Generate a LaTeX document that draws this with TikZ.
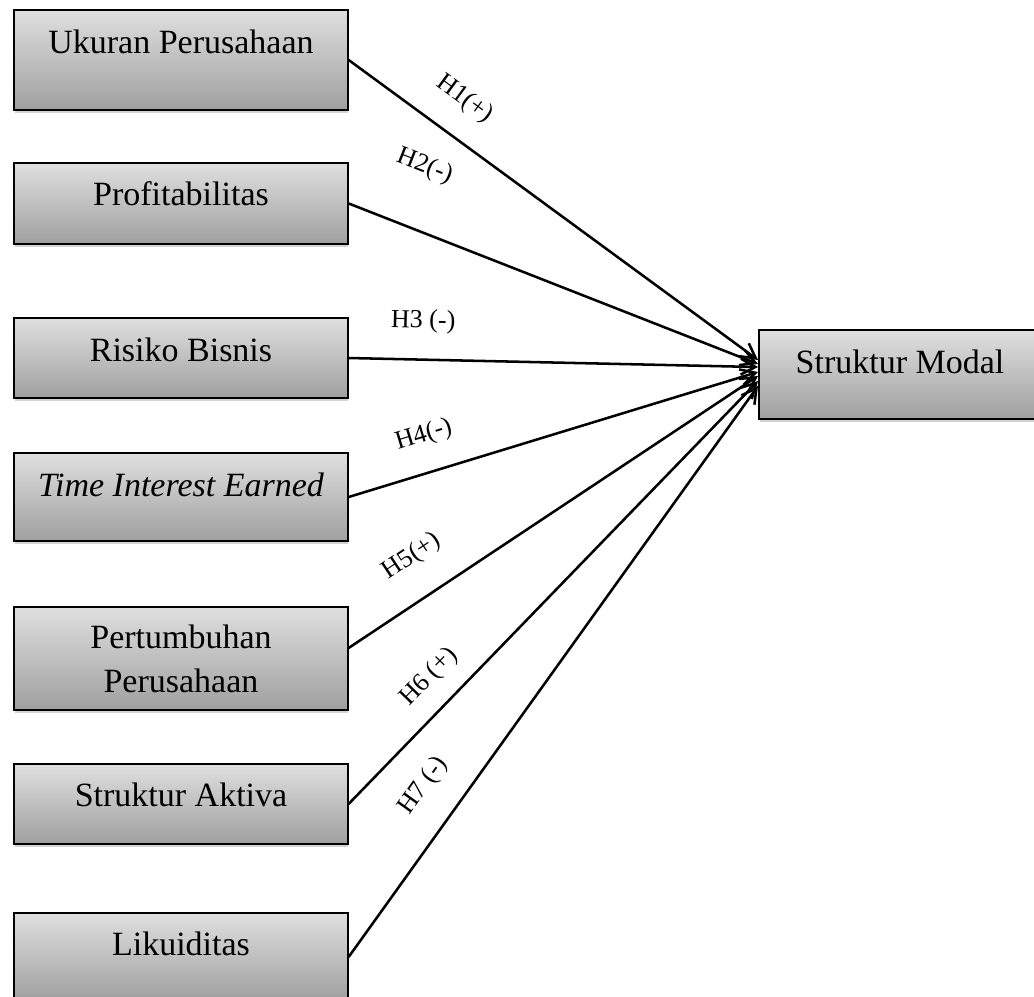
\documentclass[tikz,border=0pt]{standalone}
\usepackage{fontspec}
\setmainfont{Liberation Serif}
\usepackage{tikz}
\usetikzlibrary{arrows.meta, shadows}
\tikzstyle{varbox} = [rectangle, minimum width=250pt, text height=32.25pt, inner ysep=0pt, text centered, draw=black, line width=1.5pt, top color=gray!25, bottom color=gray!75, drop shadow={shadow xshift=0.6pt, shadow yshift=-2.6pt, opacity=0.35}, font=\fontsize{25.5}{33}\selectfont]
\tikzstyle{hyp} = [sloped, inner sep=0pt, font=\fontsize{19.5}{23}\selectfont]
\tikzstyle{arrow} = [line width=1.9pt, -{Straight Barb[length=11pt, width=12pt]}]

\begin{document}
\begin{tikzpicture}[x=0.75pt, y=-0.75pt]
        \useasboundingbox (0,0) rectangle (1034,996);
        % Nodes
        \node (ukuran) [varbox, text depth=42.75pt] at (181,60) {Ukuran Perusahaan};
        \node (profit) [varbox, text depth=28.5pt, node distance=107.6pt, below of=ukuran] {Profitabilitas};
        \node (risiko) [varbox, text depth=27.75pt, node distance=115.9pt, below of=profit] {Risiko Bisnis};
        \node (tie) [varbox, text depth=33.75pt, node distance=104.25pt, below of=risiko] {\itshape Time Interest Earned};
        \node (tumbuh) [varbox, text height={}, text depth={}, minimum height=77.25pt, align=center, node distance=121.1pt, below of=tie] {Pertumbuhan\\Perusahaan};
        \node (aktiva) [varbox, text depth=27.75pt, node distance=109.1pt, below of=tumbuh] {Struktur Aktiva};
        \node (likuid) [varbox, text depth=33.75pt, node distance=114.75pt, below of=aktiva] {Likuiditas};
        \node (modal) [varbox, text depth=34.5pt, minimum width=211.5pt] at (900,374.5) {Struktur Modal};

        % Lines
        \draw [arrow] (ukuran.east) -- ([yshift=10.9pt]modal.west) node [hyp, pos=0.23, above=18pt] {H1(+)};
        \draw [arrow] (profit.east) -- ([yshift=7.9pt]modal.west) node [hyp, pos=0.13, above=36.75pt] {H2(-)};
        \draw [arrow] (risiko.east) -- ([yshift=5.6pt]modal.west) node [hyp, pos=0.18, above=18.75pt] {H3 (-)};
        \draw [arrow] (tie.east) -- ([yshift=1.9pt]modal.west) node [hyp, pos=0.21, above=18pt] {H4(-)};
        \draw [arrow] ([yshift=7.9pt]tumbuh.east) -- ([yshift=-1.1pt]modal.west) node [hyp, pos=0.21, above=21pt] {H5(+)};
        \draw [arrow] (aktiva.east) -- ([yshift=-4.9pt]modal.west) node [hyp, pos=0.25, above=13pt] {H6 (+)};
        \draw [arrow] (likuid.east) -- ([yshift=-8.6pt]modal.west) node [hyp, pos=0.26, above=19.5pt] {H7 (-)};
    \end{tikzpicture}
\end{document}
